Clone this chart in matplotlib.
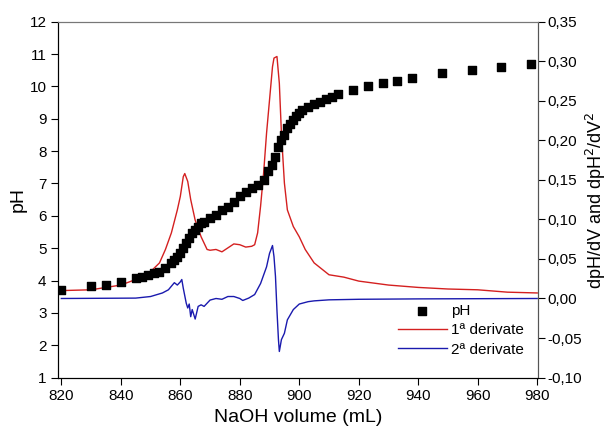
import matplotlib
matplotlib.use("Agg")
import matplotlib.pyplot as plt
from matplotlib.ticker import FuncFormatter

plt.rcParams['font.family'] = ['Liberation Sans', 'DejaVu Sans']

# titration points (pH)
vol_ph = [820, 830, 835, 840, 845, 847, 849, 851, 853, 855, 857, 858, 859, 860,
          861, 862, 863, 864, 865, 866, 867, 868, 870, 872, 874, 876, 878, 880,
          882, 884, 886, 888, 889.5, 891, 892, 893, 894, 895, 896, 897, 898, 899,
          900, 901, 903, 905, 907, 909, 911, 913, 918, 923, 928, 933, 938, 948,
          958, 968, 978]
ph = [3.71, 3.83, 3.86, 3.95, 4.07, 4.12, 4.17, 4.22, 4.27, 4.38, 4.53, 4.63,
      4.74, 4.84, 5.0, 5.15, 5.3, 5.46, 5.56, 5.66, 5.77, 5.82, 5.92, 6.02,
      6.18, 6.28, 6.44, 6.6, 6.75, 6.85, 6.95, 7.1, 7.37, 7.57, 7.83, 8.14,
      8.35, 8.5, 8.7, 8.85, 8.95, 9.07, 9.17, 9.27, 9.37, 9.47, 9.53, 9.6,
      9.68, 9.75, 9.89, 10.01, 10.12, 10.18, 10.27, 10.4, 10.51, 10.61, 10.69]

# first derivative
vol_d1 = [820, 830, 840, 845, 850, 853, 855, 857, 859, 860, 861, 861.5, 862.5,
          863.5, 865, 867, 869, 870, 872, 874, 876, 878, 880, 882, 884, 885,
          886, 887, 888, 889, 890, 891, 891.5, 892.5, 893.3, 894, 895, 896, 898,
          900, 902, 905, 910, 915, 920, 930, 940, 950, 960, 970, 980]
d1 = [0.010, 0.011, 0.017, 0.024, 0.034, 0.045, 0.062, 0.083, 0.112, 0.129,
      0.154, 0.158, 0.148, 0.125, 0.099, 0.078, 0.062, 0.061, 0.062, 0.059,
      0.064, 0.069, 0.068, 0.065, 0.066, 0.068, 0.083, 0.117, 0.158, 0.209,
      0.251, 0.293, 0.304, 0.306, 0.272, 0.209, 0.146, 0.112, 0.091, 0.078,
      0.062, 0.045, 0.030, 0.027, 0.022, 0.017, 0.014, 0.012, 0.011, 0.008,
      0.007]

# second derivative
vol_d2 = [820, 845, 850, 854, 856, 858, 859, 860, 860.5, 861, 862, 862.5, 863,
          863.5, 864, 865, 866, 867, 868, 870, 872, 874, 876, 878, 880, 881,
          883, 885, 887, 889, 890, 891, 891.5, 892, 892.5, 893, 893.3, 894, 895,
          896, 898, 900, 903, 905, 910, 920, 940, 980]
d2 = [0.0, 0.0005, 0.0025, 0.007, 0.011, 0.020, 0.017, 0.021, 0.024, 0.013,
      -0.006, -0.012, -0.007, -0.023, -0.014, -0.026, -0.010, -0.008, -0.010,
      -0.002, 0.0, -0.001, 0.0025, 0.0025, 0.0, -0.0025, 0.0005, 0.005, 0.019,
      0.040, 0.057, 0.067, 0.053, 0.028, -0.015, -0.052, -0.067, -0.052,
      -0.044, -0.027, -0.014, -0.007, -0.004, -0.003, -0.0017, -0.001, -0.0005,
      0.0]

fig = plt.figure(figsize=(6.08, 4.34), dpi=100)
ax = fig.add_axes([0.096, 0.13, 0.789, 0.82])
ax2 = ax.twinx()

ax.scatter(vol_ph, ph, marker='s', s=30, color='black', zorder=3, label='pH')
ax2.plot(vol_d1, d1, color='#d42020', lw=1.0, label='1ª derivate')
ax2.plot(vol_d2, d2, color='#1a1aae', lw=1.0, label='2ª derivate')

ax.set_zorder(ax2.get_zorder() + 1)
ax.patch.set_visible(False)

ax.set_xlim(819, 980.3)
ax.set_ylim(1, 12)
ax.set_xticks(range(820, 981, 20))
ax.set_yticks(range(1, 13))
ax2.set_ylim(-0.10, 0.35)
ax2.set_yticks([-0.10, -0.05, 0.0, 0.05, 0.10, 0.15, 0.20, 0.25, 0.30, 0.35])
ax2.yaxis.set_major_formatter(FuncFormatter(lambda v, p: f"{v:.2f}".replace('.', ',')))

ax.tick_params(labelsize=11, direction='out', length=5)
ax2.tick_params(labelsize=11, direction='out', length=5, pad=2)
ax.set_xlabel('NaOH volume (mL)', fontsize=14)
ax.set_ylabel('pH', fontsize=14, labelpad=2)
ax2.set_ylabel('dpH/dV and dpH$^2$/dV$^2$', fontsize=13, labelpad=1)

for a in (ax, ax2):
    a.spines['top'].set_color('#777777')
    a.spines['right'].set_color('#555555')

h1, l1 = ax.get_legend_handles_labels()
h2, l2 = ax2.get_legend_handles_labels()
ax.legend(h1 + h2, l1 + l2, loc='lower right', frameon=False, fontsize=11,
          bbox_to_anchor=(1.0, 0.02), handlelength=3.2, handletextpad=0.3,
          labelspacing=0.35)

fig.savefig('out.png', dpi=100)
